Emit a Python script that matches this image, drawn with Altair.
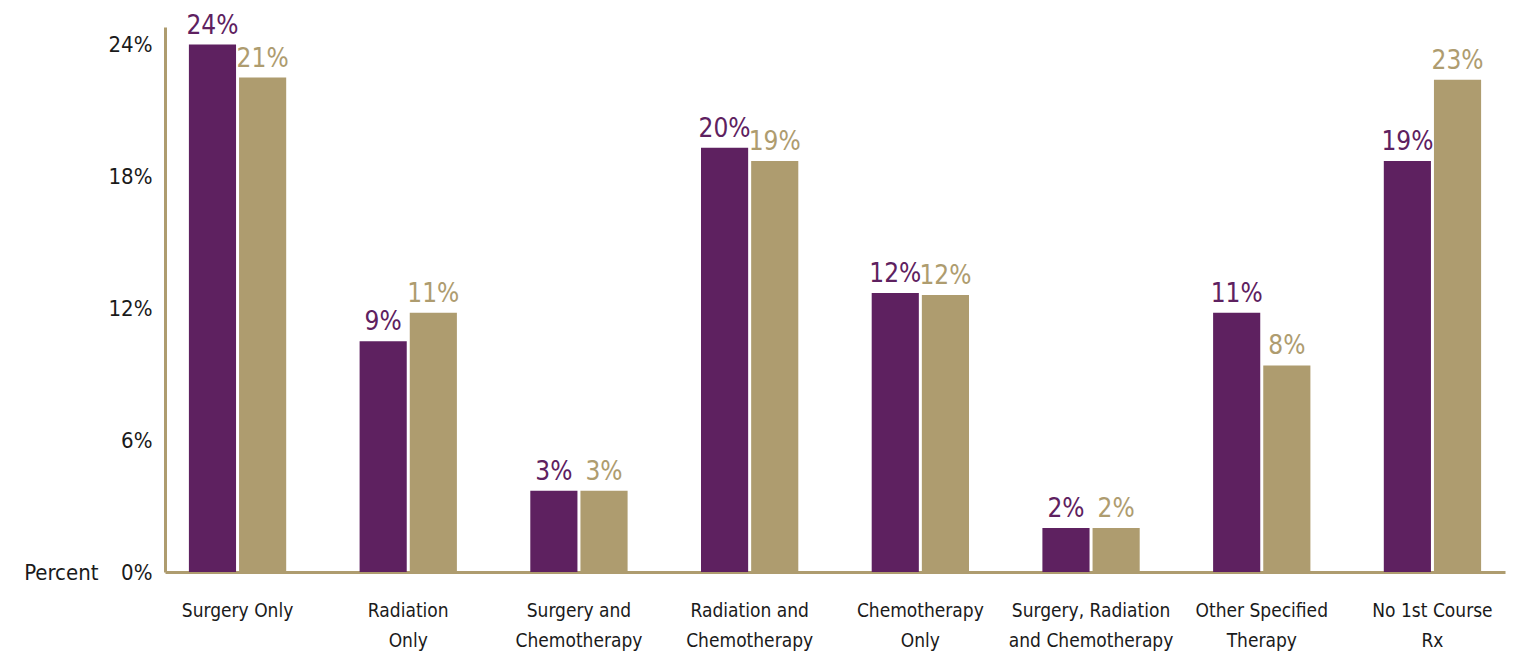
import altair as alt
import pandas as pd

categories = [
    "Surgery Only", "Radiation|Only", "Surgery and|Chemotherapy",
    "Radiation and|Chemotherapy", "Chemotherapy|Only",
    "Surgery, Radiation|and Chemotherapy", "Other Specified|Therapy",
    "No 1st Course|Rx",
]
series = ["Group A", "Group B"]
values_a = [24.0, 10.5, 3.7, 19.3, 12.7, 2.0, 11.8, 18.7]
values_b = [22.5, 11.8, 3.7, 18.7, 12.6, 2.0, 9.4, 22.4]
labels_a = ["24%", "9%", "3%", "20%", "12%", "2%", "11%", "19%"]
labels_b = ["21%", "11%", "3%", "19%", "12%", "2%", "8%", "23%"]
y_ticks = [0, 6, 12, 18, 24]

colors = ["#5E2160", "#AE9C6F"]
FONT = "Liberation Sans Narrow, DejaVu Sans Condensed, Roboto, sans-serif"

rows = []
for i, c in enumerate(categories):
    rows.append({"cat": c, "series": series[0], "value": values_a[i], "label": labels_a[i]})
    rows.append({"cat": c, "series": series[1], "value": values_b[i], "label": labels_b[i]})
df = pd.DataFrame(rows)

x = alt.X(
    "cat:N", sort=categories, title=None,
    scale=alt.Scale(paddingInner=0.43, paddingOuter=0.14),
    axis=alt.Axis(
        labelExpr="split(datum.label, '|')", labelAngle=0, ticks=False,
        domainColor="#AE9C6F", domainWidth=3, labelFont=FONT, labelFontSize=19,
        labelColor="#1a1a1a", labelPadding=29, labelLineHeight=30,
        labelLimit=0, labelOverlap=False, labelBaseline="top",
    ),
)
xoff = alt.XOffset("series:N", sort=series, scale=alt.Scale(paddingInner=0.06, paddingOuter=0))
color = alt.Color("series:N", sort=series, scale=alt.Scale(domain=series, range=colors), legend=None)
y = alt.Y(
    "value:Q",
    scale=alt.Scale(domain=[0, 24.8], nice=False, zero=True),
    axis=alt.Axis(
        values=y_ticks, labelExpr="datum.value + '%'", ticks=False, grid=False,
        domainColor="#AE9C6F", domainWidth=3, labelFont=FONT, labelFontSize=22,
        labelColor="#1a1a1a", labelPadding=13,
        title="Percent", titleAngle=0, titleAlign="right", titleBaseline="middle",
        titleX=-67, titleY=545, titleFont=FONT, titleFontSize=22,
        titleFontWeight="normal", titleColor="#1a1a1a",
    ),
)

bars = alt.Chart(df).mark_bar().encode(x=x, xOffset=xoff, y=y, color=color)
text = alt.Chart(df).mark_text(
    baseline="bottom", dy=-6, font=FONT, fontSize=26
).encode(x=x, xOffset=xoff, y=y, text="label:N", color=color)

chart = (
    alt.layer(bars, text)
    .properties(width=1340, height=545, padding={"left": 15, "top": 4, "right": 5, "bottom": 5})
    .configure_view(strokeWidth=0)
)
chart.save("out.html", embed_options={"renderer": "svg", "actions": False})
